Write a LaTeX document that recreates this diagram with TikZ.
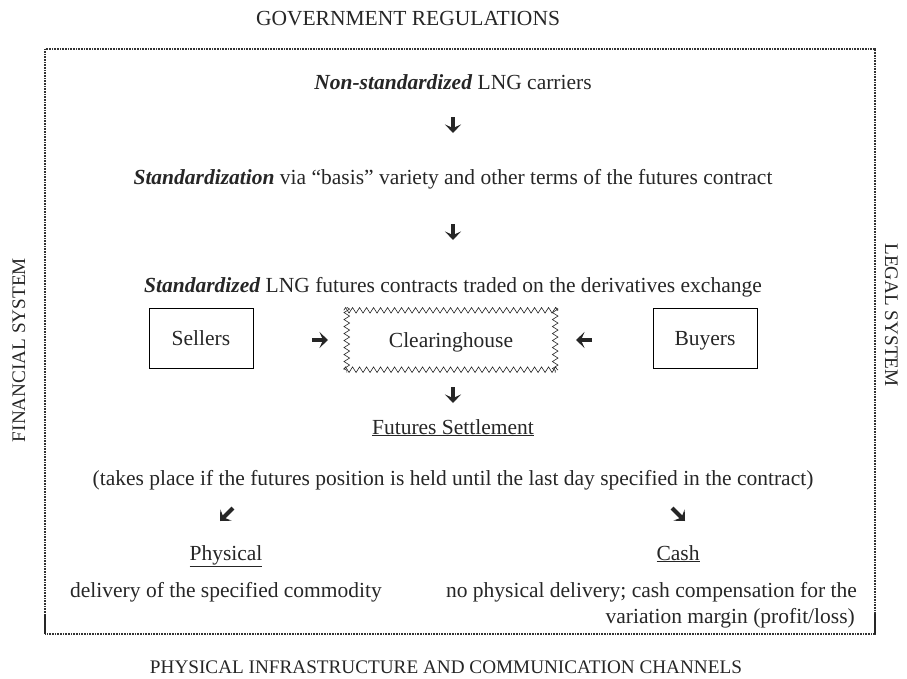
\documentclass[tikz,border=0pt]{standalone}
\usepackage{fontspec}
\setmainfont{Liberation Serif}
\usetikzlibrary{arrows.meta,decorations.pathmorphing,calc}
\begin{document}
\begin{tikzpicture}[x=1pt,y=-1pt,
  txt/.style={font=\fontsize{21.5}{25}\selectfont, inner sep=0pt, text=black!85,
    text height=17pt, text depth=3pt},
  side/.style={txt, font=\fontsize{19.2}{23}\selectfont, text height=15pt, text depth=3pt},
  bigarrow/.style={line width=4pt, -{Stealth[length=8.5pt,width=16pt,inset=3.5pt]}, black!85},
  frame/.style={line width=1.2pt, dash pattern=on 0.8pt off 0.8pt, black!80},
  frameend/.style={line width=1.5pt, black!85},
  partybox/.style={draw, line width=0.8pt, minimum width=104pt, minimum height=60pt, txt},
  zig/.style={decorate, decoration={zigzag, segment length=7pt, amplitude=2.8pt}, line width=0.6pt, black!85}]
\useasboundingbox (0,0) rectangle (907,678);

% outer dotted frame with short solid ends at the bottom corners
\draw[frame] (45,634) -- (45,49) -- (875,49) -- (875,634) -- cycle;
\draw[frameend] (45,614) -- (45,634);
\draw[frameend] (875,614) -- (875,634);

% surrounding systems
\node[txt] (gov) at (408,18) {GOVERNMENT REGULATIONS};
\node[side, rotate=90] (fin) at (19,350) {FINANCIAL SYSTEM};
\node[side, rotate=-90] (legal) at (891,315) {LEGAL SYSTEM};
\node[side] (infra) at (446,667) {PHYSICAL INFRASTRUCTURE AND COMMUNICATION CHANNELS};

% main chain
\node[txt] (nonstd) at (453,82) {\textbf{\textit{Non-standardized}} LNG carriers};
\node[txt] (stdz) at (453,177) {\textbf{\textit{Standardization}} via “basis” variety and other terms of the futures contract};
\node[txt] (std) at (453,285) {\textbf{\textit{Standardized}} LNG futures contracts traded on the derivatives exchange};

% trading parties
\node[partybox] (sellers) at (201,338) {Sellers};
\node[partybox] (buyers) at (705,338) {Buyers};
\node[txt, minimum width=208pt, minimum height=59pt] (clear) at (451,340) {Clearinghouse};
\draw[zig] ($(clear.north west)+(-3,0)$) -- ($(clear.north east)+(3,0)$);
\draw[zig] ($(clear.south west)+(-3,0)$) -- ($(clear.south east)+(3,0)$);
\draw[zig] ($(clear.north west)+(0,-3)$) -- ($(clear.south west)+(0,3)$);
\draw[zig] ($(clear.north east)+(0,-3)$) -- ($(clear.south east)+(0,3)$);

% settlement
\node[txt] (settle) at (453,427) {\underline{Futures Settlement}};
\node[txt] (cond) at (453,478) {(takes place if the futures position is held until the last day specified in the contract)};
\node[txt] (phys) at (226,553) {\underline{Physical}};
\node[txt] (cash) at (678,553) {\underline{Cash}};
\node[txt] (physd) at (226,590) {delivery of the specified commodity};
\node[txt, anchor=east] (cashd1) at (857,590) {no physical delivery; cash compensation for the};
\node[txt, anchor=east] (cashd2) at (855,616) {variation margin (profit/loss)};

% arrow glyphs
\coordinate (a1s) at (453,117); \coordinate (a1e) at (453,133);
\coordinate (a2s) at (453,224); \coordinate (a2e) at (453,240);
\coordinate (a3s) at (312,340); \coordinate (a3e) at (328,340);
\coordinate (a4s) at (592,340); \coordinate (a4e) at (576,340);
\coordinate (a5s) at (453,387); \coordinate (a5e) at (453,403);
\coordinate (a6s) at (233,508); \coordinate (a6e) at (220,521);
\coordinate (a7s) at (672,508); \coordinate (a7e) at (685,521);
\draw[bigarrow] (a1s) -- (a1e);
\draw[bigarrow] (a2s) -- (a2e);
\draw[bigarrow] (a3s) -- (a3e);
\draw[bigarrow] (a4s) -- (a4e);
\draw[bigarrow] (a5s) -- (a5e);
\draw[bigarrow] (a6s) -- (a6e);
\draw[bigarrow] (a7s) -- (a7e);
\end{tikzpicture}
\end{document}
